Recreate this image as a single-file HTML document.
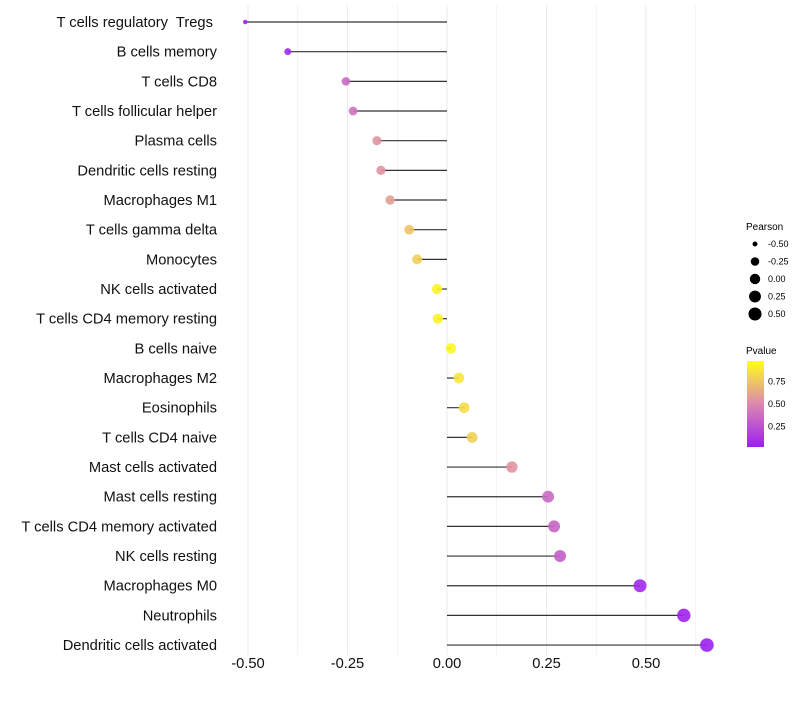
<!DOCTYPE html>
<html><head><meta charset="utf-8"><style>
body{margin:0;background:#fff;font-family:"Liberation Sans",sans-serif}
text{white-space:pre}
</style></head><body>
<svg id="c" width="800" height="700" xmlns="http://www.w3.org/2000/svg">
<defs><linearGradient id="pg" x1="0" y1="1" x2="0" y2="0">
<stop offset="0" stop-color="#9b1ff2"/><stop offset="0.5" stop-color="#dc88b0"/><stop offset="1" stop-color="#ffff1a"/></linearGradient></defs>
<g id="grid"></g><g id="marks"></g><g id="labels"></g>
<g font-size="9" fill="#000">
<text x="746" y="230" font-size="10">Pearson</text>
<g id="sizeLeg"></g>
<text x="746" y="354" font-size="10">Pvalue</text>
<rect x="747" y="361" width="17" height="86" fill="url(#pg)"/>
<g id="colLeg"></g>
</g>
</svg>
<script>
const categories=["T cells regulatory  Tregs ","B cells memory","T cells CD8","T cells follicular helper","Plasma cells","Dendritic cells resting","Macrophages M1","T cells gamma delta","Monocytes","NK cells activated","T cells CD4 memory resting","B cells naive","Macrophages M2","Eosinophils","T cells CD4 naive","Mast cells activated","Mast cells resting","T cells CD4 memory activated","NK cells resting","Macrophages M0","Neutrophils","Dendritic cells activated"];
const pearson=[-0.507,-0.40,-0.254,-0.236,-0.176,-0.166,-0.143,-0.095,-0.075,-0.025,-0.023,0.01,0.03,0.043,0.063,0.163,0.254,0.269,0.284,0.485,0.595,0.653];
const pvalue=[0.02,0.06,0.35,0.4,0.55,0.55,0.6,0.75,0.8,0.95,0.95,0.97,0.9,0.85,0.8,0.55,0.35,0.33,0.3,0.05,0.02,0.01];
const xTicks=[-0.5,-0.25,0,0.25,0.5];
const xTickLabels=["-0.50","-0.25","0.00","0.25","0.50"];
const sizeLegVals=[-0.5,-0.25,0,0.25,0.5];
const colLegVals=[0.75,0.5,0.25];
const NS="http://www.w3.org/2000/svg";
const X=v=>447+v*398;
const Y=i=>22+i*29.67;
const R=v=>2+4.5*Math.sqrt(Math.max(0,v+0.51));
function hex(h){return [1,3,5].map(i=>parseInt(h.substr(i,2),16));}
const stops=[hex("#9b1ff2"),hex("#dc88b0"),hex("#ffff1a")];
function col(p){let t=Math.max(0,Math.min(1,p))*2,k=t<1?0:1;t-=k;const a=stops[k],b=stops[k+1];return "rgb("+a.map((c,j)=>Math.round(c+(b[j]-c)*t)).join(",")+")";}
function mk(tag,at,parent,txt){const e=document.createElementNS(NS,tag);for(const k in at)e.setAttribute(k,at[k]);if(txt!==undefined)e.textContent=txt;document.getElementById(parent).appendChild(e);return e;}
for(let v=-0.5;v<=0.626;v+=0.125){const g=mk("line",{x1:X(v),x2:X(v),y1:5,y2:655,stroke:"#ebebeb","stroke-width":Math.abs(v*8%2)<0.01?1:0.6},"grid");

}
xTicks.forEach((v,i)=>{const t=mk("text",{x:X(v),y:668,"text-anchor":"middle","font-size":14.7,fill:"#111"},"labels",xTickLabels[i]);

});
categories.forEach((c,i)=>{
const t=mk("text",{x:217,y:Y(i)+5,"text-anchor":"end","font-size":14.7,fill:"#111"},"labels",c);


const l=mk("line",{x1:X(0),x2:X(pearson[i]),y1:Y(i),y2:Y(i),stroke:"#333","stroke-width":1.2},"marks");


const d=mk("circle",{cx:X(pearson[i]),cy:Y(i),r:R(pearson[i]),fill:col(pvalue[i]),"fill-opacity":0.9},"marks");


});
sizeLegVals.forEach((v,i)=>{const y=244+i*17.5;
const d=mk("circle",{cx:755,cy:y,r:R(v),fill:"#000"},"sizeLeg");


const t=mk("text",{x:768,y:y+3,"font-size":9},"sizeLeg",["-0.50","-0.25","0.00","0.25","0.50"][i]);

});
colLegVals.forEach(v=>{const y=361+(0.98-v)/0.96*86;
const t=mk("text",{x:768,y:y+3,"font-size":9},"colLeg",v.toFixed(2));

});
</script>
</body></html>
